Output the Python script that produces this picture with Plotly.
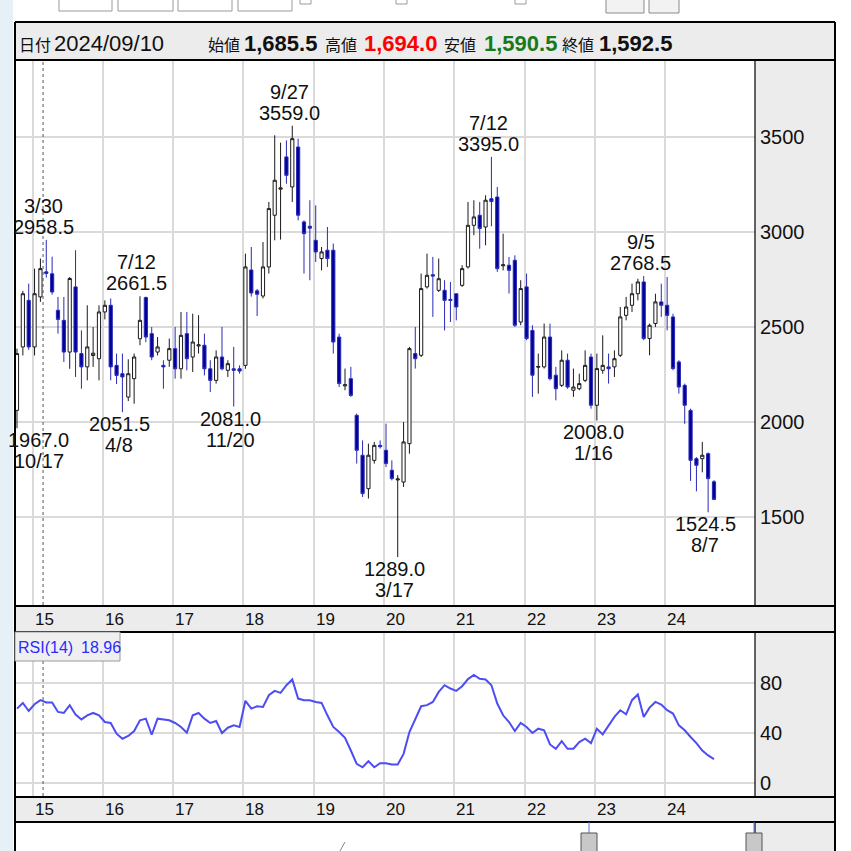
import plotly.graph_objects as go
import pandas as pd

# ---------------- data (monthly candles, Oct 2014 .. Sep 2024) ----------------
months = pd.date_range("2014-10-01", periods=120, freq="MS").strftime("%Y-%m").tolist()

open_ = [2061, 2395, 2640, 2395, 2658, 2790, 2780, 2588, 2535, 2368,
         2711, 2360, 2290, 2350, 2333, 2579, 2614, 2298, 2254, 2131,
         2228, 2438, 2655, 2465, 2368, 2298, 2325, 2386, 2280, 2465,
         2342, 2400, 2404, 2280, 2219, 2342, 2272, 2280, 2280, 2298,
         2800, 2690, 2663, 2816, 3088, 3225, 3395, 3237, 3447, 3053,
         3030, 2956, 2860, 2904, 2904, 2447, 2190, 2228, 2035, 1825,
         1649, 1798, 1877, 1851, 1746, 1695, 1684, 1886, 2360, 2351,
         2711, 2775, 2693, 2693, 2645, 2675, 2719, 2816, 3035, 3088,
         3026, 3175, 3184, 2822, 2825, 2851, 2526, 2711, 2482, 2288,
         2290, 2447, 2246, 2193, 2325, 2167, 2175, 2219, 2342, 2088,
         2272, 2290, 2290, 2351, 2561, 2614, 2675, 2737, 2439, 2518,
         2632, 2614, 2553, 2316, 2193, 2061, 1807, 1807, 1833, 1685.5]
high = [2386, 2690, 2728, 2807, 2860, 2958.5, 2870, 2658, 2658, 2763,
        2904, 2482, 2614, 2500, 2614, 2640, 2650, 2360, 2360, 2330,
        2360, 2661.5, 2660, 2500, 2447, 2325, 2439, 2500, 2579, 2579,
        2570, 2562, 2465, 2325, 2377, 2500, 2325, 2395, 2298, 2886,
        2921, 2700, 2947, 3158, 3509, 3470, 3482, 3559.0, 3491, 3061,
        3167, 3140, 2921, 3026, 2939, 2465, 2281, 2290, 2044, 1903,
        1886, 1895, 1903, 1991, 1798, 1720, 2000, 2395, 2500, 2781,
        2886, 2869, 2860, 2746, 2737, 2675, 2825, 3158, 3167, 3158,
        3193, 3395.0, 3237, 2991, 2868, 2877, 2746, 2781, 2509, 2360,
        2518, 2518, 2290, 2377, 2360, 2281, 2254, 2377, 2360, 2360,
        2456, 2360, 2377, 2605, 2658, 2728, 2754, 2768.5, 2518, 2675,
        2728, 2763, 2570, 2325, 2202, 2070, 1815, 1895, 1840, 1694.0]
low = [1967.0, 2350, 2380, 2350, 2632, 2760, 2670, 2465, 2316, 2280,
       2237, 2175, 2219, 2290, 2219, 2540, 2219, 2200, 2051.5, 2110,
       2096, 2404, 2420, 2325, 2350, 2175, 2290, 2228, 2228, 2272,
       2263, 2360, 2245, 2158, 2202, 2272, 2237, 2081.0, 2254, 2280,
       2660, 2558, 2650, 2781, 2956, 2960, 3254, 3158, 3061, 2781,
       2746, 2842, 2798, 2816, 2360, 2184, 2167, 2132, 1781, 1605,
       1597, 1781, 1860, 1763, 1693, 1289.0, 1658, 1833, 2281, 2342,
       2702, 2553, 2684, 2482, 2526, 2535, 2711, 2807, 2983, 2912,
       2930, 3030, 2790, 2798, 2676, 2500, 2509, 2430, 2132, 2149,
       2281, 2219, 2114, 2184, 2175, 2132, 2167, 2210, 2070, 2008.0,
       2254, 2202, 2237, 2342, 2535, 2579, 2640, 2430, 2351, 2500,
       2553, 2482, 2272, 2149, 1990, 1690, 1635, 1735, 1524.5, 1590.5]
close = [2360, 2675, 2395, 2675, 2807, 2782, 2684, 2540, 2368, 2755,
         2368, 2290, 2395, 2362, 2579, 2614, 2290, 2245, 2237, 2254,
         2342, 2535, 2447, 2342, 2395, 2290, 2386, 2280, 2456, 2333,
         2421, 2406, 2280, 2219, 2342, 2280, 2307, 2272, 2268, 2816,
         2679, 2672, 2816, 3123, 3272, 3232, 3298, 3491, 3088, 2991,
         3020, 2895, 2895, 2860, 2421, 2202, 2196, 2140, 1851, 1623,
         1825, 1877, 1870, 1781, 1702, 1700, 1895, 2386, 2333, 2702,
         2772, 2768, 2754, 2640, 2640, 2605, 2807, 3035, 3079, 3018,
         3167, 3160, 2807, 2827, 2798, 2509, 2702, 2439, 2246, 2292,
         2447, 2228, 2175, 2325, 2184, 2184, 2202, 2298, 2088, 2281,
         2298, 2280, 2333, 2553, 2605, 2675, 2737, 2439, 2509, 2632,
         2614, 2561, 2281, 2184, 2088, 1798, 1772, 1825, 1702, 1592.5]

rsi = [59.7, 64.3, 57.8, 63.2, 66.5, 64.6, 64.6, 57.0, 56.2, 62.4,
       54.9, 51.0, 54.3, 56.2, 54.3, 48.9, 48.1, 39.5, 35.4, 37.6,
       41.6, 50.3, 51.6, 38.6, 51.6, 50.8, 50.3, 48.1, 44.9, 40.3,
       54.3, 56.2, 51.6, 48.1, 49.7, 40.0, 44.3, 46.2, 44.9, 66.0,
       59.7, 61.6, 61.1, 70.5, 74.0, 72.4, 78.6, 83.2, 67.8, 66.5,
       66.5, 65.1, 64.3, 54.3, 44.9, 40.8, 36.2, 25.9, 15.1, 12.4,
       17.3, 12.4, 15.7, 15.7, 14.6, 14.6, 23.2, 40.8, 51.6, 61.6,
       62.5, 65.1, 73.2, 78.6, 75.9, 74.0, 77.8, 83.5, 86.8, 83.8,
       83.2, 78.6, 63.8, 54.3, 48.9, 41.6, 48.1, 44.9, 40.0, 43.5,
       42.2, 30.8, 27.3, 33.5, 27.3, 27.3, 32.7, 35.4, 31.9, 43.5,
       38.9, 46.2, 53.0, 58.4, 55.1, 66.5, 71.1, 53.0, 60.5, 65.1,
       63.0, 58.4, 55.7, 46.2, 42.2, 36.8, 31.9, 25.9, 21.9, 18.96]

year_labels = ["15", "16", "17", "18", "19", "20", "21", "22", "23", "24"]
price_ticks = [1500, 2000, 2500, 3000, 3500]
rsi_ticks = [0, 40, 80]

# extreme labels: (month, which, date text)
extremes = [("2014-10", "low", "10/17"), ("2015-03", "high", "3/30"),
            ("2016-04", "low", "4/8"), ("2016-07", "high", "7/12"),
            ("2017-11", "low", "11/20"), ("2018-09", "high", "9/27"),
            ("2020-03", "low", "3/17"), ("2021-07", "high", "7/12"),
            ("2023-01", "low", "1/16"), ("2023-09", "high", "9/5"),
            ("2024-08", "low", "8/7")]

header_date = "2024/09/10"
crosshair_month = "2015-02"

# ---------------- geometry helpers ----------------
W = H = 851
def px(x): return x / W
def py(y): return 1 - y / H

NUM = "Liberation Sans, Arial, sans-serif"
JP = "Noto Sans CJK JP, sans-serif"

def nfont(size, color="#111", weight="normal"):
    return dict(family=NUM, size=size, color=color, weight=weight)

xs = list(range(len(months)))
year_idx = [months.index("20%s-01" % y) - 0.35 for y in year_labels]

fig = go.Figure()
fig.add_trace(go.Candlestick(
    x=xs, open=open_, high=high, low=low, close=close,
    increasing=dict(line=dict(color="#1a1a1a", width=1), fillcolor="#ffffff"),
    decreasing=dict(line=dict(color="#2a2ab8", width=1), fillcolor="#000096"),
    whiskerwidth=0, xaxis="x", yaxis="y", hoverinfo="skip"))
fig.add_trace(go.Scatter(
    x=xs, y=rsi, mode="lines", line=dict(color="#4d4df2", width=2),
    xaxis="x2", yaxis="y2", hoverinfo="skip"))

grid = "#dadada"
xr = [-0.34, 126.0]
fig.update_layout(
    width=W, height=H, margin=dict(l=0, r=0, t=0, b=0),
    paper_bgcolor="#ffffff", plot_bgcolor="#ffffff",
    showlegend=False, boxgap=0.22, hovermode=False,
    xaxis=dict(domain=[px(15), px(755)], range=xr, anchor="y",
               tickvals=year_idx, showticklabels=False, ticks="",
               showgrid=True, gridcolor=grid, gridwidth=1.5, zeroline=False,
               rangeslider=dict(visible=False), fixedrange=True),
    yaxis=dict(domain=[py(606), py(60)], range=[1031.6, 3905], anchor="x",
               side="right", tickvals=price_ticks, ticks="",
               ticklabelstandoff=4, showgrid=True, gridcolor=grid,
               gridwidth=1.5, zeroline=False, tickfont=nfont(20)),
    xaxis2=dict(domain=[px(15), px(755)], range=xr, anchor="y2", matches="x",
                tickvals=year_idx, showticklabels=False, ticks="",
                showgrid=True, gridcolor=grid, gridwidth=1.5, zeroline=False),
    yaxis2=dict(domain=[py(797), py(632)], range=[-11.6, 121.5], anchor="x2",
                side="right", tickvals=rsi_ticks, ticks="",
                ticklabelstandoff=4, showgrid=True, gridcolor=grid,
                gridwidth=1.5, zeroline=False, tickfont=nfont(20)),
)

shapes = []
def rect(x0, y0, x1, y1, fill, line="rgba(0,0,0,0)", lw=0, layer="below"):
    shapes.append(dict(type="rect", xref="paper", yref="paper",
                       x0=px(x0), x1=px(x1), y0=py(y1), y1=py(y0),
                       fillcolor=fill, line=dict(color=line, width=lw), layer=layer))
def hline(x0, x1, y, color="#000", w=2):
    shapes.append(dict(type="line", xref="paper", yref="paper", x0=px(x0), x1=px(x1),
                       y0=py(y), y1=py(y), line=dict(color=color, width=w), layer="above"))
def vline(x, y0, y1, color="#000", w=2):
    shapes.append(dict(type="line", xref="paper", yref="paper", x0=px(x), x1=px(x),
                       y0=py(y0), y1=py(y1), line=dict(color=color, width=w), layer="above"))

band = "#ececec"
rect(0, 0, 13, 851, "#e6f0f7")
rect(15, 22, 835, 60, band)               # header
rect(755, 60, 835, 606, band)             # price axis area
rect(15, 606, 835, 632, band)             # x band 1
rect(755, 632, 835, 797, band)            # rsi axis area
rect(15, 797, 835, 822, band)             # x band 2
rect(755, 822, 835, 851, band)            # navigator right

# toolbar remnants
for a, b in [(59, 112), (118, 173), (178, 232), (238, 292)]:
    rect(a, -4, b, 11, "#ffffff", "#9a9a9a", 1)
for a in [300, 396, 515]:
    rect(a, -4, a + 11, 4, "#ffffff", "#9a9a9a", 1)
for a, b in [(606, 644), (649, 679)]:
    rect(a, -4, b, 13, "#f2f2f2", "#8a8a8a", 1)

# frame lines
for y in [22, 60, 606, 632, 797, 822]:
    hline(15, 835, y)
vline(15, 22, 851)
vline(835, 22, 851)
vline(755, 60, 606, w=1.2)
vline(755, 632, 797, w=1.2)
vline(755, 822, 851, w=1.2)

# crosshair
ci = months.index(crosshair_month) + 0.45
for y0, y1 in [(61, 605), (633, 796)]:
    shapes.append(dict(type="line", xref="x", yref="paper", x0=ci, x1=ci,
                       y0=py(y1), y1=py(y0), layer="above",
                       line=dict(color="#555", width=1, dash="3px,3px")))

# navigator handles
for xc in [589, 754]:
    vline(xc, 822, 834, color="#5a6fe0", w=1)
    rect(xc - 8, 833, xc + 8, 853, "#c8c8c8", "#555", 1, layer="above")
shapes.append(dict(type="line", xref="paper", yref="paper", x0=px(340), x1=px(345),
                   y0=py(851), y1=py(842), line=dict(color="#888", width=1)))

# RSI label box
rect(15, 632, 120, 661, "#efefef", "#9a9a9a", 1, layer="above")

annotations = []
def txt(x, y, s, font, xanchor="left", yanchor="middle",
        xref="paper", xshift=0, yshift=0, yref="paper"):
    annotations.append(dict(x=x, y=y, xref=xref, yref=yref, text=s, showarrow=False,
                            xanchor=xanchor, yanchor=yanchor, xshift=xshift, yshift=yshift,
                            font=font, borderpad=0))

jp = dict(family=JP, size=16, color="#111")

# header
hy = py(44)
txt(px(18), hy, "日付", jp)
txt(px(53), hy, header_date, nfont(22))
txt(px(207), hy, "始値", jp)
txt(px(243), hy, f"{open_[-1]:,.1f}", nfont(22, weight="bold"))
txt(px(324), hy, "高値", jp)
txt(px(363), hy, f"{high[-1]:,.1f}", nfont(22, "#ff0000", "bold"))
txt(px(443), hy, "安値", jp)
txt(px(483), hy, f"{low[-1]:,.1f}", nfont(22, "#1a7a1a", "bold"))
txt(px(561), hy, "終値", jp)
txt(px(598), hy, f"{close[-1]:,.1f}", nfont(22, weight="bold"))

# year labels in both bands
for xv, lab in zip(year_idx, year_labels):
    for yc in (619.5, 809.5):
        txt(xv, py(yc), lab, nfont(17), xref="x", xshift=1)

# RSI label
txt(px(17), py(647), "RSI(14)", nfont(16, "#2b2bff"))
txt(px(80), py(647), f"{rsi[-1]:.2f}", nfont(16, "#2b2bff"))

# extreme labels
for m, kind, dlab in extremes:
    i = months.index(m)
    xsh = -3
    if i == 0:
        xsh = 22
    if kind == "high":
        v = high[i]
        txt(i, v, f"{v:.1f}", nfont(20), xref="x", yref="y", xanchor="center",
            yanchor="bottom", xshift=xsh, yshift=1)
        txt(i, v, dlab, nfont(20), xref="x", yref="y", xanchor="center",
            yanchor="bottom", xshift=xsh, yshift=22)
    else:
        v = low[i]
        txt(i, v, f"{v:.1f}", nfont(20), xref="x", yref="y", xanchor="center",
            yanchor="top", xshift=xsh, yshift=0)
        txt(i, v, dlab, nfont(20), xref="x", yref="y", xanchor="center",
            yanchor="top", xshift=xsh, yshift=-21)

fig.update_layout(shapes=shapes, annotations=annotations)
fig.write_html("out.html", config={"displayModeBar": False},
               post_script="document.body.style.margin='0';document.body.style.overflow='hidden';")
